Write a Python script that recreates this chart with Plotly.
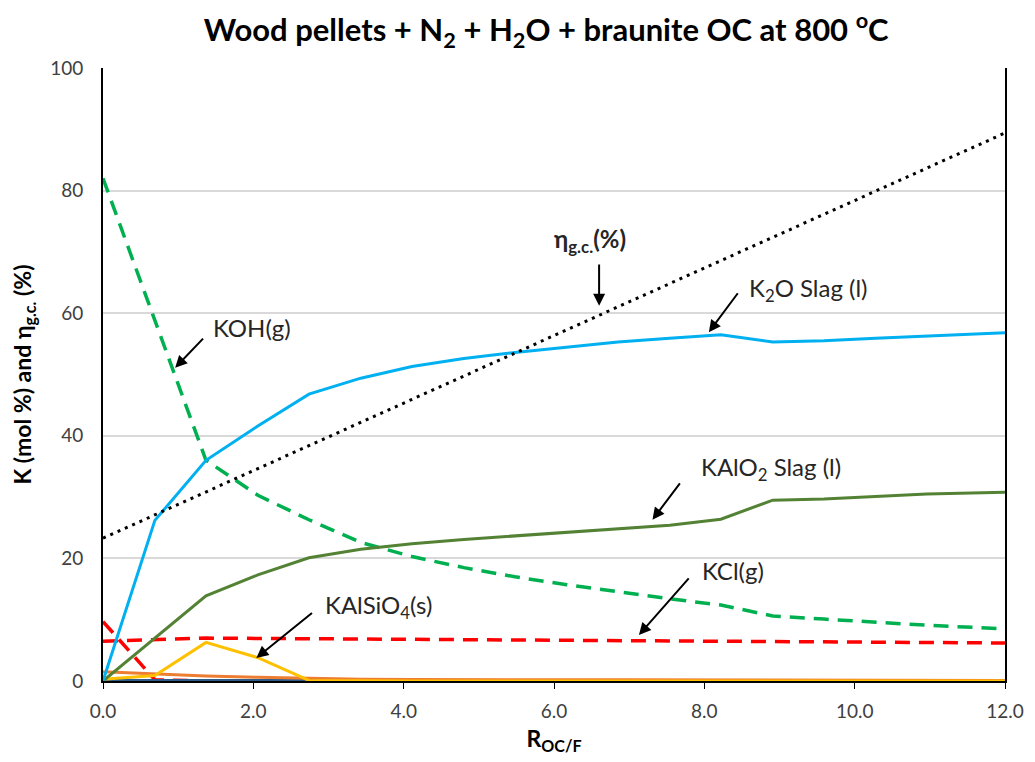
import plotly.graph_objects as go

# R_OC/F values
r_ocf = [0, 0.69, 1.37, 2.06, 2.74, 3.43, 4.11, 4.8, 5.48, 6.17, 6.85, 7.54, 8.22, 8.91, 9.59, 10.28, 10.96, 12.0]

k2o_slag = [0, 26.2, 36.0, 41.6, 46.8, 49.4, 51.3, 52.6, 53.6, 54.5, 55.3, 55.9, 56.5, 55.3, 55.5, 55.9, 56.3, 56.8]
kalo2_slag = [0, 7.0, 13.9, 17.3, 20.1, 21.5, 22.4, 23.1, 23.7, 24.3, 24.8, 25.4, 26.4, 29.5, 29.7, 30.1, 30.5, 30.8]
koh_g = [82, 59, 36, 30.3, 26.3, 22.6, 20.3, 18.5, 17.0, 15.7, 14.5, 13.4, 12.4, 10.6, 10.1, 9.6, 9.1, 8.5]
kcl_g = [6.5, 6.8, 7.0, 6.95, 6.9, 6.85, 6.8, 6.75, 6.7, 6.65, 6.6, 6.5, 6.45, 6.4, 6.35, 6.3, 6.25, 6.2]
k_other_red = [9.7, 0.2, 0] + [None] * 15
kalsio4_s = [0.3, 0.9, 6.3, 3.8, 0.1, 0, 0, 0, 0, 0, 0, 0, 0, 0, 0, 0, 0, 0]
k_orange = [1.5, 1.1, 0.8, 0.6, 0.4, 0.3, 0.25, 0.2, 0.2, 0.2, 0.2, 0.2, 0.15, 0.1, 0.1, 0.1, 0.1, 0.1]
k_navy = [0.1, 0.1, 0.1, 0.1, 0.1, 0, 0, 0, 0, 0, 0, 0, 0, 0, 0, 0, 0, 0]
eta_gc = [23.3, 27.1, 30.8, 34.6, 38.4, 42.2, 45.9, 49.7, 53.5, 57.3, 61.0, 64.8, 68.6, 72.4, 76.1, 79.9, 83.7, 89.4]

y_ticks = [0, 20, 40, 60, 80, 100]
x_ticks = [0, 2, 4, 6, 8, 10, 12]

FONT = "Lato"

fig = go.Figure()

series = [
    (k_other_red, "#FF0000", 3.5, "15px,9px"),
    (k_navy, "#2E5A88", 3, "solid"),
    (k_orange, "#ED7D31", 3, "solid"),
    (kalsio4_s, "#FFC000", 3, "solid"),
    (kcl_g, "#FF0000", 3.5, "15px,9px"),
    (koh_g, "#00B050", 3.5, "15px,9px"),
    (kalo2_slag, "#548235", 3, "solid"),
    (k2o_slag, "#00B0F0", 3, "solid"),
    (eta_gc, "#000000", 3, "3px,5px"),
]
for vals, color, w, dash in series:
    fig.add_trace(go.Scatter(x=r_ocf, y=vals, mode="lines",
                             line=dict(color=color, width=w, dash=dash),
                             showlegend=False, hoverinfo="skip"))

# labels with arrows: (text, head x, head y, tail x, tail y, text x, text y, bold)
labels = [
    ("KOH(g)", 0.96, 51.1, 1.35, 56.1, 1.98, 57.7, False),
    ("η<sub>g.c.</sub>(%)", 6.6, 61.2, 6.6, 68.2, 6.48, 71.9, True),
    ("K<sub>2</sub>O Slag (l)", 8.06, 56.9, 8.46, 63.5, 9.39, 63.8, False),
    ("KAlO<sub>2</sub> Slag (l)", 7.31, 26.3, 7.69, 32.5, 8.89, 34.6, False),
    ("KCl(g)", 7.13, 7.5, 7.81, 17.0, 8.38, 18.1, False),
    ("KAlSiO<sub>4</sub>(s)", 2.04, 3.75, 2.80, 11.3, 3.66, 12.1, False),
]
for text, hx, hy, tx, ty, lx, ly, bold in labels:
    fig.add_annotation(x=hx, y=hy, ax=tx, ay=ty, xref="x", yref="y", axref="x", ayref="y",
                       text="", showarrow=True, arrowhead=2, arrowsize=1.2, arrowwidth=2,
                       arrowcolor="#000000")
    fig.add_annotation(x=lx, y=ly, xref="x", yref="y", showarrow=False,
                       text=f"<b>{text}</b>" if bold else text,
                       font=dict(family=FONT, size=24, color="#262626"))

# page body adds an 8px offset, margins account for it
fig.update_layout(
    width=1035, height=762,
    paper_bgcolor="white", plot_bgcolor="white",
    margin=dict(l=93, r=38, t=60, b=89),
    title=dict(text="<b>Wood pellets + N<sub>2</sub> + H<sub>2</sub>O + braunite OC at 800 <sup>o</sup>C</b>",
               x=0.52, xanchor="center", y=0.985, yanchor="top",
               font=dict(family=FONT, size=31, color="#000000")),
    font=dict(family=FONT),
)
fig.update_xaxes(range=[0, 12], tickvals=x_ticks, tickformat=".1f",
                 showgrid=False, zeroline=False,
                 showline=True, linecolor="#000000", linewidth=2,
                 ticks="outside", ticklen=6, tickcolor="#000000", ticklabelstandoff=6,
                 tickfont=dict(family=FONT, size=19, color="#404040"),
                 title=dict(text="<b>R<sub>OC/F</sub></b>", standoff=10,
                            font=dict(family=FONT, size=23, color="#000000")))
fig.update_yaxes(range=[0, 100], tickvals=y_ticks,
                 showgrid=True, gridcolor="#D9D9D9", gridwidth=1.5, zeroline=False,
                 showline=True, linecolor="#000000", linewidth=2, mirror=True,
                 ticks="", ticklabelstandoff=14,
                 tickfont=dict(family=FONT, size=19, color="#404040"),
                 title=dict(text="<b>K (mol %) and η<sub>g.c.</sub> (%)</b>", standoff=14,
                            font=dict(family=FONT, size=23, color="#000000")))

fig.write_html("out.html")
